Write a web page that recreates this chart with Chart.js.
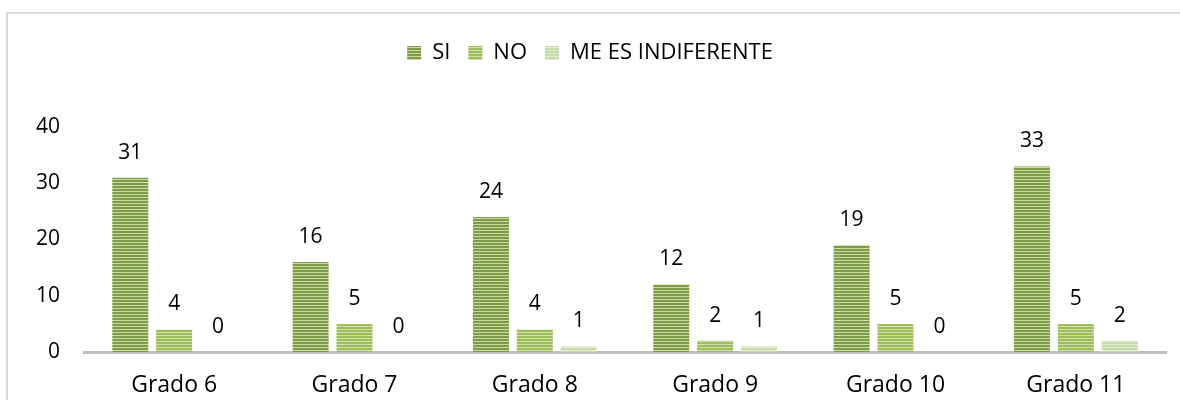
<!DOCTYPE html>
<html>
<head>
<meta charset="utf-8">
<script src="https://cdn.jsdelivr.net/npm/chart.js@4"></script>
<style>
	body { margin: 0; background: #fff; }
	.frame {
		position: absolute;
		left: 6px;
		top: 12px;
		width: 1180px;
		height: 400px;
		border-left: 2px solid #d9d9d9;
		border-top: 2px solid #d9d9d9;
	}
	.wrap { position: absolute; left: 0; top: 0; width: 1180px; height: 400px; }
</style>
</head>
<body>
<div class="frame"></div>
<div class="wrap"><canvas id="chart"></canvas></div>
<script>
const grades = ["Grado 6", "Grado 7", "Grado 8", "Grado 9", "Grado 10", "Grado 11"];
const siValues = [31, 16, 24, 12, 19, 33];
const noValues = [4, 5, 4, 2, 5, 5];
const indiferenteValues = [0, 0, 1, 1, 0, 2];
const yTicks = [0, 10, 20, 30, 40];

const fontFamily = "'Open Sans', sans-serif";

// striped fill like the office "horizontal lines" pattern
function stripes(dark, light) {
	const c = document.createElement("canvas");
	c.width = 4;
	c.height = 3;
	const ctx = c.getContext("2d");
	ctx.fillStyle = light;
	ctx.fillRect(0, 0, 4, 3);
	ctx.fillStyle = dark;
	ctx.fillRect(0, 0, 4, 2);
	return ctx.createPattern(c, "repeat");
}

const siFill = stripes("#7e9c47", "#c9daa6");
const noFill = stripes("#9dbd5b", "#d0e0ad");
const indFill = stripes("#c8daa9", "#e4edd5");

const valueLabels = {
	id: "valueLabels",
	afterDatasetsDraw(chart) {
		const ctx = chart.ctx;
		ctx.save();
		ctx.font = "21px " + fontFamily;
		ctx.fillStyle = "#000";
		ctx.textAlign = "center";
		ctx.textBaseline = "middle";
		chart.data.datasets.forEach((ds, i) => {
			chart.getDatasetMeta(i).data.forEach((bar, j) => {
				ctx.fillText(String(ds.data[j]), bar.x, bar.y - 25);
			});
		});
		ctx.restore();
	}
};

const legendSpace = {
	id: "legendSpace",
	beforeInit(chart) {
		const fit = chart.legend.fit;
		chart.legend.fit = function () {
			fit.bind(chart.legend)();
			this.height += 53;
		};
	}
};

new Chart(document.getElementById("chart"), {
	type: "bar",
	data: {
		labels: grades,
		datasets: [
			{ label: "SI", data: siValues, backgroundColor: siFill },
			{ label: "NO", data: noValues, backgroundColor: noFill },
			{ label: "ME ES INDIFERENTE", data: indiferenteValues, backgroundColor: indFill }
		]
	},
	options: {
		responsive: true,
		maintainAspectRatio: false,
		animation: false,
		layout: { padding: { left: 14, right: 14, top: 24, bottom: 0 } },
		datasets: {
			bar: { categoryPercentage: 0.73, barPercentage: 0.82 }
		},
		plugins: {
			legend: {
				position: "top",
				labels: {
					boxWidth: 14,
					boxHeight: 14,
					padding: 18,
					color: "#000",
					font: { family: fontFamily, size: 22 }
				}
			},
			tooltip: { enabled: false }
		},
		scales: {
			x: {
				afterFit(scale) {
					scale.height = 48;
				},
				grid: { display: false },
				border: { color: "#bfbfbf", width: 3 },
				ticks: { color: "#000", padding: 12, font: { family: fontFamily, size: 23 } }
			},
			y: {
				min: 0,
				max: 40,
				afterBuildTicks(scale) {
					scale.ticks = yTicks.map((v) => ({ value: v }));
				},
				afterFit(scale) {
					scale.width = 70;
				},
				grid: { display: false },
				border: { display: false },
				ticks: { color: "#000", padding: 16, font: { family: fontFamily, size: 21 } }
			}
		}
	},
	plugins: [valueLabels, legendSpace]
});
</script>
</body>
</html>
